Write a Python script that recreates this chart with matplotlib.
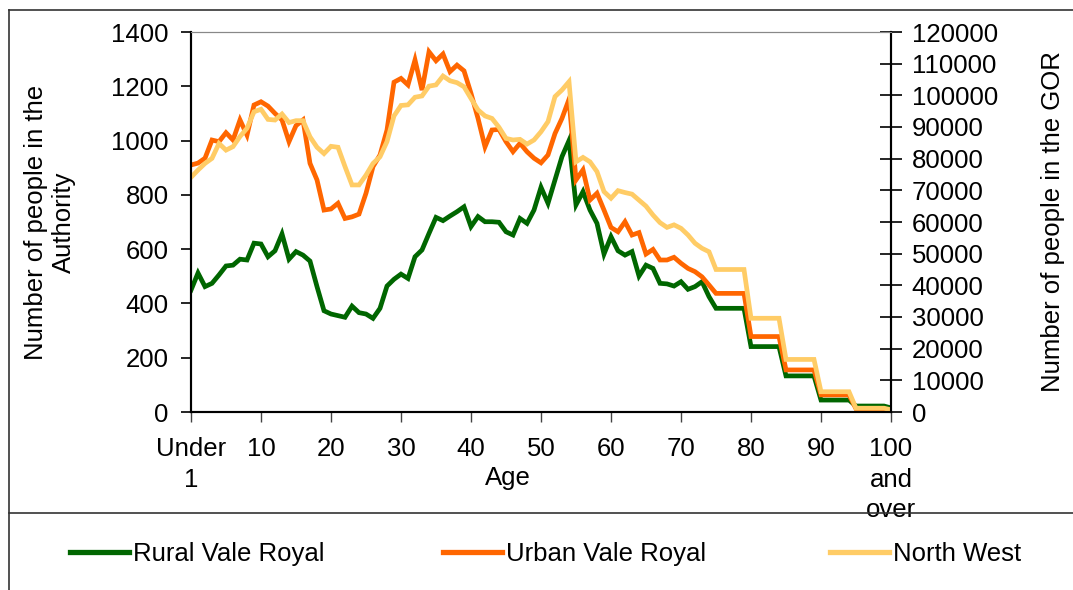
import matplotlib
matplotlib.use("Agg")
import matplotlib.pyplot as plt
from matplotlib.lines import Line2D

plt.rcParams['font.family'] = ['Liberation Sans', 'DejaVu Sans']

ages = list(range(0, 101))

# Rural Vale Royal (left axis)
rural = [449, 512, 462, 474, 505, 538, 541, 563, 560, 622, 619, 572, 594, 656, 563,
         591, 578, 556, 462, 373, 361, 355, 349, 390, 366, 361, 345, 382, 464, 489,
         508, 492, 572, 597, 658, 717, 705, 722, 738, 756, 683, 720, 701, 701, 699,
         664, 652, 713, 695, 744, 828, 769, 855, 941, 1000, 763, 812, 744, 695, 582,
         646, 594, 578, 591, 501, 541, 529, 474, 472, 464, 480, 452, 462, 480, 425,
         382, 382, 382, 382, 382, 241, 241, 241, 241, 241, 133, 133, 133, 133, 133,
         44, 44, 44, 44, 44, 22, 22, 22, 22, 22, 15]

# Urban Vale Royal (left axis)
urban = [910, 917, 935, 1002, 996, 1029, 1002, 1076, 1020, 1131, 1143, 1127, 1100, 1076, 996,
         1055, 1076, 916, 855, 744, 748, 769, 713, 719, 729, 806, 904, 947, 1039, 1215,
         1229, 1205, 1297, 1186, 1327, 1294, 1319, 1254, 1278, 1257, 1174, 1082, 977, 1039, 1041,
         996, 959, 990, 959, 935, 918, 947, 1026, 1082, 1152, 855, 892, 781, 806, 744,
         680, 664, 701, 652, 661, 582, 599, 560, 560, 570, 548, 529, 517, 498, 468,
         437, 437, 437, 437, 437, 278, 278, 278, 278, 278, 155, 155, 155, 155, 155,
         63, 63, 63, 63, 63, 12, 12, 12, 12, 12, 3]

# North West (right axis)
north_west = [74100, 76400, 78500, 80100, 84800, 82700, 83800, 87000, 89600, 94800, 95600, 92400, 92200, 94100, 91400,
              92000, 92000, 86900, 83600, 81600, 83900, 83600, 77500, 71700, 71700, 74800, 78500, 80600, 85400, 93500,
              96800, 97000, 99400, 99800, 102900, 103300, 106100, 104600, 104000, 102700, 99000, 95400, 93500, 92700, 89900,
              86400, 85900, 86100, 84600, 85900, 88500, 91700, 99600, 101700, 104300, 79000, 80400, 79000, 75900, 69600,
              67500, 69900, 69300, 68800, 66900, 65000, 62200, 59800, 58300, 59100, 58000, 55900, 53300, 51700, 50600,
              45000, 45000, 45000, 45000, 45000, 29600, 29600, 29600, 29600, 29600, 16600, 16600, 16600, 16600, 16600,
              6400, 6400, 6400, 6400, 6400, 1200, 1200, 1200, 1200, 1200, 700]

xtick_pos = [0, 10, 20, 30, 40, 50, 60, 70, 80, 90, 100]
xtick_labels = ['Under\n1', '10', '20', '30', '40', '50', '60', '70', '80', '90', '100\nand\nover']

W, H = 1073, 590
fig = plt.figure(figsize=(W / 100, H / 100), dpi=100)

# plot area in pixels: x 191..891, y 32..412
ax = fig.add_axes([191 / W, (H - 412) / H, 700 / W, 380 / H])
ax2 = ax.twinx()

fs = 18.5
green = '#006600'
orange = '#FF6600'
light = '#FFCC66'

l1, = ax.plot(ages, rural, color=green, lw=3.4, solid_joinstyle='miter')
l2, = ax.plot(ages, urban, color=orange, lw=3.4, solid_joinstyle='miter')
l3, = ax2.plot(ages, north_west, color=light, lw=3.4, solid_joinstyle='miter')

ax.set_xlim(0, 100)
ax.set_ylim(0, 1400)
ax2.set_ylim(0, 120000)
ax.set_yticks(range(0, 1401, 200))
ax2.set_yticks(range(0, 120001, 10000))
ax.set_xticks(xtick_pos)
ax.set_xticklabels(xtick_labels, fontsize=fs, linespacing=1.35)
ax.tick_params(axis='y', labelsize=fs, direction='out', length=7, width=1.2, pad=9)
ax.tick_params(axis='x', direction='out', length=7, width=1.0, pad=11, color='#444444')
ax2.tick_params(axis='y', labelsize=fs, direction='inout', length=16, width=1.2, pad=7)

for a in (ax, ax2):
    a.spines['top'].set_color('#888888')
    a.spines['left'].set_linewidth(1.5)
    a.spines['right'].set_linewidth(1.5)
    a.spines['bottom'].set_linewidth(1.5)

fig.text(50 / W, 1 - 222 / H, 'Number of people in the\nAuthority', rotation=90,
         ha='center', va='center', fontsize=fs, linespacing=1.25)
fig.text(1053 / W, 1 - 222 / H, 'Number of people in the GOR', rotation=90,
         ha='center', va='center', fontsize=fs)
fig.text(508 / W, 1 - 478 / H, 'Age', ha='center', va='center', fontsize=fs)

# outer frame and separator above the legend
frame_kw = dict(transform=fig.transFigure, color='#333333', lw=1.2)
fig.add_artist(Line2D([9 / W, 9 / W], [0, 1 - 10 / H], **frame_kw))
fig.add_artist(Line2D([9 / W, 1], [1 - 10 / H, 1 - 10 / H], **frame_kw))
fig.add_artist(Line2D([9 / W, 1], [1 - 513 / H, 1 - 513 / H], **frame_kw))

# legend, one entry per line placed across the bottom strip
entries = [(l1, 'Rural Vale Royal', 70), (l2, 'Urban Vale Royal', 443), (l3, 'North West', 830)]
for line, label, x0 in entries:
    yy = 1 - 552 / H
    fig.add_artist(Line2D([x0 / W, (x0 + 59) / W], [yy, yy], transform=fig.transFigure,
                          color=line.get_color(), lw=3.8))
    fig.text((x0 + 63) / W, yy - 2 / H, label, ha='left', va='center', fontsize=fs)

fig.savefig('out.png', dpi=100)
